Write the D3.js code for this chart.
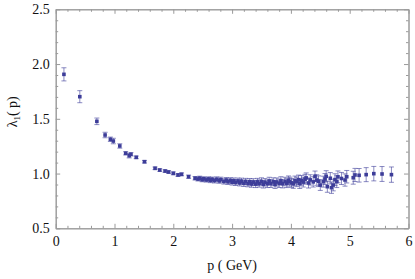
<!DOCTYPE html>
<html>
<head>
<meta charset="utf-8">
<script src="https://cdn.jsdelivr.net/npm/d3@7"></script>
<style>
  body { margin: 0; background: #fff; }
  text { font-family: "Liberation Serif", "DejaVu Serif", serif; }
</style>
</head>
<body>
<div id="chart"></div>
<script>
// momentum p (GeV)
var momentum = [
  0.14, 0.41, 0.70, 0.84, 0.93, 0.98, 1.09, 1.19, 1.25, 1.28,
  1.37, 1.51, 1.69, 1.77, 1.86, 1.92, 2.00, 2.08, 2.14, 2.26,
  2.37, 2.42, 2.45, 2.49, 2.52, 2.56, 2.60, 2.63, 2.66, 2.70,
  2.74, 2.78, 2.81, 2.86, 2.90, 2.93, 2.97, 3.00, 3.03, 3.06,
  3.10, 3.13, 3.16, 3.20, 3.23, 3.27, 3.30, 3.33, 3.36, 3.40,
  3.43, 3.46, 3.50, 3.53, 3.56, 3.60, 3.63, 3.66, 3.70, 3.73,
  3.76, 3.80, 3.83, 3.86, 3.90, 3.93, 3.96, 3.98, 4.01, 4.04,
  4.07, 4.10, 4.13, 4.15, 4.18, 4.21, 4.24, 4.26, 4.30, 4.33,
  4.38, 4.41, 4.44, 4.47, 4.50, 4.55, 4.58, 4.60, 4.62, 4.67,
  4.69, 4.72, 4.75, 4.78, 4.80, 4.86, 4.92, 4.95, 5.06, 5.09,
  5.16, 5.28, 5.41, 5.55, 5.71
];

// lambda_1(p)
var lambda1 = [
  1.906, 1.702, 1.477, 1.352, 1.313, 1.297, 1.252, 1.185, 1.163, 1.176,
  1.148, 1.108, 1.048, 1.032, 1.023, 1.014, 1.002, 0.987, 0.993, 0.971,
  0.957, 0.950, 0.958, 0.944, 0.952, 0.942, 0.950, 0.938, 0.947, 0.936,
  0.948, 0.934, 0.944, 0.928, 0.940, 0.925, 0.937, 0.921, 0.934, 0.918,
  0.932, 0.915, 0.930, 0.911, 0.927, 0.909, 0.925, 0.906, 0.922, 0.904,
  0.924, 0.909, 0.928, 0.902, 0.920, 0.907, 0.931, 0.909, 0.925, 0.901,
  0.923, 0.911, 0.933, 0.908, 0.927, 0.912, 0.938, 0.926, 0.915, 0.907,
  0.935, 0.924, 0.943, 0.908, 0.938, 0.922, 0.948, 0.960, 0.914, 0.942,
  0.924, 0.975, 0.941, 0.930, 0.895, 0.926, 0.950, 0.975, 0.880, 0.957,
  0.871, 0.895, 0.945, 0.926, 0.970, 0.955, 0.941, 0.971, 0.962, 0.987,
  0.984, 0.990, 0.999, 0.996, 0.990
];

// error bar half heights
var errors = [
  0.060, 0.055, 0.030, 0.025, 0.020, 0.025, 0.020, 0.015, 0.020, 0.015,
  0.012, 0.012, 0.012, 0.012, 0.012, 0.012, 0.013, 0.013, 0.013, 0.015,
  0.016, 0.018, 0.018, 0.019, 0.019, 0.020, 0.020, 0.021, 0.021, 0.022,
  0.022, 0.023, 0.023, 0.024, 0.024, 0.025, 0.025, 0.026, 0.026, 0.027,
  0.027, 0.028, 0.028, 0.029, 0.029, 0.030, 0.030, 0.031, 0.031, 0.032,
  0.032, 0.033, 0.033, 0.034, 0.034, 0.035, 0.035, 0.036, 0.036, 0.037,
  0.037, 0.038, 0.038, 0.039, 0.039, 0.040, 0.040, 0.041, 0.041, 0.042,
  0.042, 0.043, 0.043, 0.044, 0.044, 0.045, 0.045, 0.046, 0.046, 0.047,
  0.047, 0.048, 0.048, 0.049, 0.049, 0.050, 0.050, 0.051, 0.051, 0.052,
  0.052, 0.053, 0.053, 0.054, 0.054, 0.055, 0.056, 0.057, 0.059, 0.060,
  0.062, 0.064, 0.066, 0.068, 0.070
];

var xTicks = [0, 1, 2, 3, 4, 5, 6];
var yTicks = [0.5, 1.0, 1.5, 2.0, 2.5];

var margin = { top: 9.3, right: 6.5, bottom: 50.7, left: 55.7 },
    width = 415 - margin.left - margin.right,
    height = 279 - margin.top - margin.bottom;

var svg = d3.select("#chart").append("svg")
    .attr("width", 415)
    .attr("height", 279)
    .append("g")
    .attr("transform", "translate(" + margin.left + "," + margin.top + ")");

var x = d3.scaleLinear().domain([0, 6]).range([0, width]);
var y = d3.scaleLinear().domain([0.5, 2.5]).range([height, 0]);

var frameColor = "#9a9a9a";
var minorX = d3.range(0, 6.001, 0.2).filter(function(v){ return Math.abs(v - Math.round(v)) > 1e-6; });
var minorY = d3.range(0.5, 2.501, 0.1).filter(function(v){ return Math.abs(v * 2 - Math.round(v * 2)) > 1e-6; });

function styleAxis(g, showLabels) {
    g.attr("font-family", null);
    g.select(".domain").attr("stroke", frameColor);
    g.selectAll(".tick line").attr("stroke", frameColor);
    g.selectAll(".tick text")
        .attr("fill", "#111")
        .style("font-size", "14px")
        .style("font-family", "'Liberation Serif', serif");
    if (!showLabels) g.selectAll(".tick text").remove();
}

// bottom
svg.append("g")
    .attr("transform", "translate(0," + height + ")")
    .call(d3.axisBottom(x).tickValues(xTicks).tickFormat(d3.format("d")).tickSize(-4.5).tickSizeOuter(0).tickPadding(8))
    .call(styleAxis, true);
svg.append("g")
    .attr("transform", "translate(0," + height + ")")
    .call(d3.axisBottom(x).tickValues(minorX).tickSize(-2.5).tickSizeOuter(0))
    .call(styleAxis, false);
// top
svg.append("g")
    .call(d3.axisTop(x).tickValues(xTicks).tickSize(-4.5).tickSizeOuter(0))
    .call(styleAxis, false);
svg.append("g")
    .call(d3.axisTop(x).tickValues(minorX).tickSize(-2.5).tickSizeOuter(0))
    .call(styleAxis, false);
// left
svg.append("g")
    .call(d3.axisLeft(y).tickValues(yTicks).tickFormat(d3.format(".1f")).tickSize(-4.5).tickSizeOuter(0).tickPadding(6))
    .call(styleAxis, true);
svg.append("g")
    .call(d3.axisLeft(y).tickValues(minorY).tickSize(-2.5).tickSizeOuter(0))
    .call(styleAxis, false);
// right
svg.append("g")
    .attr("transform", "translate(" + width + ",0)")
    .call(d3.axisRight(y).tickValues(yTicks).tickSize(-4.5).tickSizeOuter(0))
    .call(styleAxis, false);
svg.append("g")
    .attr("transform", "translate(" + width + ",0)")
    .call(d3.axisRight(y).tickValues(minorY).tickSize(-2.5).tickSizeOuter(0))
    .call(styleAxis, false);

var data = momentum.map(function(p, i) {
    return { p: p, v: lambda1[i], e: errors[i] };
});

var markColor = "#3d3d99";

var bars = svg.selectAll(".err")
    .data(data)
    .enter().append("g")
    .attr("class", "err")
    .attr("stroke", markColor)
    .attr("stroke-opacity", 0.6)
    .attr("stroke-width", 1);
bars.append("line")
    .attr("x1", function(d){ return x(d.p); })
    .attr("x2", function(d){ return x(d.p); })
    .attr("y1", function(d){ return y(d.v - d.e); })
    .attr("y2", function(d){ return y(d.v + d.e); });
bars.append("line")
    .attr("x1", function(d){ return x(d.p) - 2.5; })
    .attr("x2", function(d){ return x(d.p) + 2.5; })
    .attr("y1", function(d){ return y(d.v + d.e); })
    .attr("y2", function(d){ return y(d.v + d.e); });
bars.append("line")
    .attr("x1", function(d){ return x(d.p) - 2.5; })
    .attr("x2", function(d){ return x(d.p) + 2.5; })
    .attr("y1", function(d){ return y(d.v - d.e); })
    .attr("y2", function(d){ return y(d.v - d.e); });

svg.selectAll(".pt")
    .data(data)
    .enter().append("rect")
    .attr("class", "pt")
    .attr("x", function(d){ return x(d.p) - 1.8; })
    .attr("y", function(d){ return y(d.v) - 1.8; })
    .attr("width", 3.6)
    .attr("height", 3.6)
    .attr("fill", markColor);

// axis labels
svg.append("text")
    .attr("x", x(3))
    .attr("y", height + 42)
    .attr("text-anchor", "middle")
    .attr("fill", "#111")
    .style("font-size", "14px")
    .text("p ( GeV)");

var yl = svg.append("text")
    .attr("transform", "translate(" + (-margin.left + 17) + "," + (y(1.5) - 7) + ") rotate(-90)")
    .attr("text-anchor", "middle")
    .attr("fill", "#111")
    .style("font-size", "14px");
yl.append("tspan").text("λ");
yl.append("tspan").attr("dy", 3).style("font-size", "9px").text("1");
yl.append("tspan").attr("dy", -3).text("( p)");
</script>
</body>
</html>
